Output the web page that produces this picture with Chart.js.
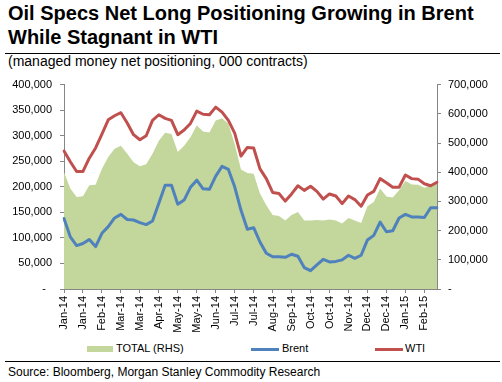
<!DOCTYPE html>
<html>
<head>
<meta charset="utf-8">
<script src="https://cdn.jsdelivr.net/npm/chart.js"></script>
<style>
  body { margin: 0; background: #fff; font-family: "Liberation Sans", Arial, sans-serif; color: #000; }
  #wrap { position: relative; width: 502px; height: 382px; overflow: hidden; }
  .abs { position: absolute; white-space: nowrap; }
  #title { left: 8px; top: 1px; font-size: 20px; line-height: 24px; font-weight: bold; }
  #sub { left: 8px; top: 54px; font-size: 14px; line-height: 14px; }
  .rule { position: absolute; left: 5px; width: 495px; height: 1px; background: #000; }
  #chart { position: absolute; left: 0; top: 70px; }
  .leg { font-size: 11px; line-height: 11px; top: 343px; }
  .swatch { position: absolute; }
  #source { left: 8px; top: 366px; font-size: 12px; line-height: 12px; }
</style>
</head>
<body>
<div id="wrap">
  <div id="title" class="abs">Oil Specs Net Long Positioning Growing in Brent<br>While Stagnant in WTI</div>
  <div class="rule" style="top:53px"></div>
  <div id="sub" class="abs">(managed money net positioning, 000 contracts)</div>
  <canvas id="chart" width="502" height="270"></canvas>

  <div class="swatch" style="left:87px;top:346px;width:26px;height:6px;background:#c3d69b"></div>
  <div class="abs leg" style="left:116px">TOTAL (RHS)</div>
  <div class="swatch" style="left:251px;top:348px;width:28px;height:3px;background:#4f81bd"></div>
  <div class="abs leg" style="left:282px">Brent</div>
  <div class="swatch" style="left:375px;top:348px;width:28px;height:3px;background:#c0504d"></div>
  <div class="abs leg" style="left:405px">WTI</div>

  <div class="rule" style="top:361px"></div>
  <div id="source" class="abs">Source: Bloomberg, Morgan Stanley Commodity Research</div>
</div>

<script>
// weekly data, values in thousands of contracts
const tickLabels = ['Jan-14', 'Jan-14', 'Feb-14', 'Mar-14', 'Mar-14', 'Apr-14', 'May-14', 'May-14', 'Jun-14', 'Jul-14',
  'Jul-14', 'Aug-14', 'Sep-14', 'Oct-14', 'Oct-14', 'Nov-14', 'Dec-14', 'Dec-14', 'Jan-15', 'Feb-15'];

const totalRhs = [400, 344, 315, 318, 355, 357, 412, 452, 480, 491, 463, 434, 420, 427, 463,
  508, 535, 531, 469, 491, 520, 560, 539, 536, 577, 585, 566, 497, 409, 397,
  395, 327, 287, 253, 250, 235, 253, 264, 235, 235, 236, 235, 238, 235, 224,
  243, 235, 226, 283, 298, 344, 317, 313, 338, 370, 358, 357, 347, 355, 361];

const brent = [138, 102, 85, 89, 97, 83, 109, 122, 139, 146, 136, 135, 130, 126, 133,
  168, 203, 203, 166, 174, 199, 213, 196, 195, 221, 240, 234, 200, 154, 117,
  120, 92, 70, 63, 63, 62, 68, 64, 42, 36, 47, 58, 53, 54, 57,
  66, 60, 66, 96, 105, 131, 112, 114, 139, 146, 141, 141, 140, 159, 159];

const wti = [270, 249, 230, 230, 256, 276, 303, 331, 339, 345, 325, 302, 292, 300, 330,
  341, 334, 330, 302, 311, 324, 348, 342, 341, 356, 346, 330, 305, 260, 277,
  276, 235, 216, 189, 187, 172, 186, 202, 193, 201, 191, 176, 186, 182, 167,
  182, 175, 162, 184, 191, 216, 208, 199, 199, 223, 216, 215, 206, 202, 209];

// one category per week, a label on every third week
const categories = wti.map((v, i) => i % 3 === 0 ? tickLabels[i / 3] : '');

const axisColor = '#868686';
const tickFont = { family: '"Liberation Sans", Arial, sans-serif', size: 11 };

function fmt(v) {
  return v.toLocaleString('en-US');
}

const ctx = document.getElementById('chart').getContext('2d');
new Chart(ctx, {
  type: 'line',
  data: {
    labels: categories,
    datasets: [
      {
        label: 'Brent',
        data: brent.map(v => v * 1000),
        borderColor: '#4f81bd',
        borderWidth: 3,
        borderJoinStyle: 'round',
        borderCapStyle: 'round',
        pointRadius: 0,
        yAxisID: 'y',
        order: 1
      },
      {
        label: 'WTI',
        data: wti.map(v => v * 1000),
        borderColor: '#c0504d',
        borderWidth: 3,
        borderJoinStyle: 'round',
        borderCapStyle: 'round',
        pointRadius: 0,
        yAxisID: 'y',
        order: 2
      },
      {
        label: 'TOTAL (RHS)',
        data: totalRhs.map(v => v * 1000),
        borderWidth: 0,
        borderColor: 'rgba(0,0,0,0)',
        backgroundColor: '#c3d69b',
        fill: 'origin',
        pointRadius: 0,
        yAxisID: 'y1',
        order: 3
      }
    ]
  },
  options: {
    responsive: false,
    animation: false,
    layout: { padding: { top: 14, left: 0, right: 0, bottom: 0 } },
    plugins: {
      legend: { display: false },
      tooltip: { enabled: false }
    },
    scales: {
      x: {
        afterFit: s => { s.height = 51; },
        grid: {
          drawOnChartArea: false,
          tickLength: 4,
          tickColor: c => c.index % 3 === 0 ? axisColor : 'rgba(0,0,0,0)'
        },
        border: { color: axisColor },
        ticks: {
          autoSkip: false,
          maxRotation: 90,
          minRotation: 90,
          padding: 3,
          color: '#000',
          font: tickFont
        }
      },
      y: {
        position: 'left',
        min: 0,
        max: 400000,
        afterFit: s => { s.width = 64; },
        grid: { drawOnChartArea: false, tickLength: 4, color: axisColor },
        border: { color: axisColor },
        ticks: {
          stepSize: 50000,
          padding: 8,
          color: '#000',
          font: tickFont,
          callback: v => v === 0 ? '-  ' : fmt(v)
        }
      },
      y1: {
        position: 'right',
        min: 0,
        max: 700000,
        afterFit: s => { s.width = 65; },
        grid: { drawOnChartArea: false, tickLength: 4, color: axisColor },
        border: { color: axisColor },
        ticks: {
          stepSize: 100000,
          padding: 7,
          color: '#000',
          font: tickFont,
          callback: v => v === 0 ? '-' : fmt(v)
        }
      }
    }
  }
});
</script>
</body>
</html>
